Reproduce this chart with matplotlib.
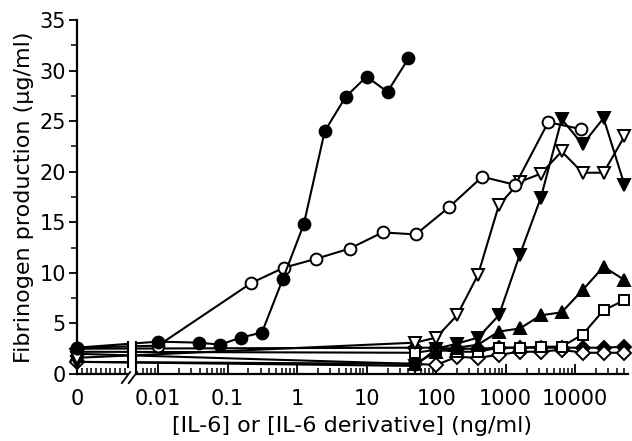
import numpy as np
import matplotlib
matplotlib.use("Agg")
import matplotlib.pyplot as plt
from matplotlib.patches import Rectangle

plt.rcParams['font.family'] = ['DejaVu Sans']

# ---- data (concentration in ng/ml; value at 0 given separately) ----
x_il6 = [0.01, 0.039, 0.078, 0.156, 0.3125, 0.625, 1.25, 2.5, 5, 10, 20, 40]
y_il6_0 = 2.6
y_il6 = [3.2, 3.1, 2.9, 3.6, 4.1, 9.4, 14.8, 24.0, 27.4, 29.4, 27.9, 31.2]

x_oc = [0.01, 0.22, 0.64, 1.9, 5.7, 17, 51, 154, 460, 1380, 4100, 12300]
y_oc_0 = 2.6
y_oc = [2.8, 9.0, 10.5, 11.4, 12.4, 14.0, 13.8, 16.5, 19.5, 18.7, 24.9, 24.2]

x_der = [50, 100, 200, 400, 800, 1600, 3200, 6400, 12800, 25600, 51200]
y_otd_0 = 1.6
y_otd = [3.1, 3.6, 5.8, 9.8, 16.7, 19.0, 19.8, 22.0, 19.9, 19.9, 23.5]
y_ftd_0 = 1.2
y_ftd = [0.8, 2.5, 3.0, 3.6, 5.8, 11.8, 17.4, 25.2, 22.7, 25.3, 18.7]
y_ftu_0 = 2.0
y_ftu = [1.0, 2.2, 2.6, 2.9, 4.2, 4.5, 5.8, 6.1, 8.3, 10.6, 9.3]
y_osq_0 = 2.2
y_osq = [2.1, 2.4, 2.2, 2.2, 2.6, 2.6, 2.7, 2.7, 3.9, 6.3, 7.3]
y_fdi_0 = 2.5
y_fdi = [2.6, 2.6, 2.5, 2.5, 2.6, 2.6, 2.6, 2.6, 2.6, 2.6, 2.7]
y_odi_0 = 1.2
y_odi = [1.0, 0.9, 1.7, 1.6, 1.9, 2.2, 2.2, 2.4, 2.1, 2.1, 2.1]

x_ticklabels = ['0', '0.01', '0.1', '1', '10', '100', '1000', '10000']

# ---- layout ----
T0 = -3.165          # position of "0" on the (log10) axis
BRK_L, BRK_R = -2.43, -2.32

fig = plt.figure(figsize=(6.32, 4.41), dpi=100)
ax = fig.add_axes([77/632, (441-374)/441, 551/632, 354/441])
ax.set_xlim(T0, 4.76)
ax.set_ylim(0, 35)

def tpos(xs):
    return [T0] + list(np.log10(xs))

series = [
    (x_der, y_fdi_0, y_fdi, 'D', 'black', 7.5),
    (x_der, y_odi_0, y_odi, 'D', 'white', 7.5),
    (x_der, y_osq_0, y_osq, 's', 'white', 7),
    (x_der, y_ftu_0, y_ftu, '^', 'black', 9),
    (x_der, y_ftd_0, y_ftd, 'v', 'black', 9),
    (x_der, y_otd_0, y_otd, 'v', 'white', 9),
    (x_oc, y_oc_0, y_oc, 'o', 'white', 8.5),
    (x_il6, y_il6_0, y_il6, 'o', 'black', 8.5),
]
for xs, y0, ys, m, fc, ms in series:
    ax.plot(tpos(xs), [y0] + list(ys), color='black', lw=1.5, marker=m,
            markersize=ms, markerfacecolor=fc, markeredgecolor='black',
            markeredgewidth=1.4, clip_on=False, zorder=3)

# spines
for s in ['top', 'right']:
    ax.spines[s].set_visible(False)
ax.spines['left'].set_linewidth(1.6)
ax.spines['bottom'].set_linewidth(1.6)

# y ticks
ax.set_yticks(np.arange(0, 36, 5))
ax.set_yticks(np.arange(2.5, 35, 5), minor=True)
ax.tick_params(axis='y', which='major', direction='out', length=6, width=1.3,
               labelsize=15, pad=2)
ax.tick_params(axis='y', which='minor', direction='out', length=4, width=1.1)

# x ticks
ax.set_xticks([T0, -2, -1, 0, 1, 2, 3, 4])
ax.set_xticklabels(x_ticklabels)
minor = []
for d in range(-3, 5):
    for k in range(2, 10):
        t = d + np.log10(k)
        if BRK_R + 0.05 < t < 4.76:
            minor.append(t)
minor += list(np.linspace(T0 + 0.07, BRK_L - 0.05, 10))
ax.set_xticks(minor, minor=True)
ax.tick_params(axis='x', which='major', direction='in', length=7, width=1.3,
               labelsize=15, pad=11)
ax.tick_params(axis='x', which='minor', direction='in', length=4, width=1.1)

# axis break
ax.add_patch(Rectangle((BRK_L, -0.3), BRK_R - BRK_L, 3.7, facecolor='white',
                       edgecolor='none', zorder=6, clip_on=False))
ax.plot([BRK_L, BRK_L], [0.7, 3.2], color='black', lw=1.5, zorder=7, clip_on=False)
ax.plot([BRK_R, BRK_R], [0.0, 3.2], color='black', lw=1.5, zorder=7, clip_on=False)
ax.plot([-2.52, -2.40], [-0.9, 0.2], color='black', lw=1.3, zorder=7, clip_on=False)
ax.plot([-2.42, -2.30], [-0.9, 0.2], color='black', lw=1.3, zorder=7, clip_on=False)

ax.set_xlabel('[IL-6] or [IL-6 derivative] (ng/ml)', fontsize=16, labelpad=5)
ax.set_ylabel('Fibrinogen production (\u00b5g/ml)', fontsize=16, labelpad=4)

fig.savefig('out.png', dpi=100)
